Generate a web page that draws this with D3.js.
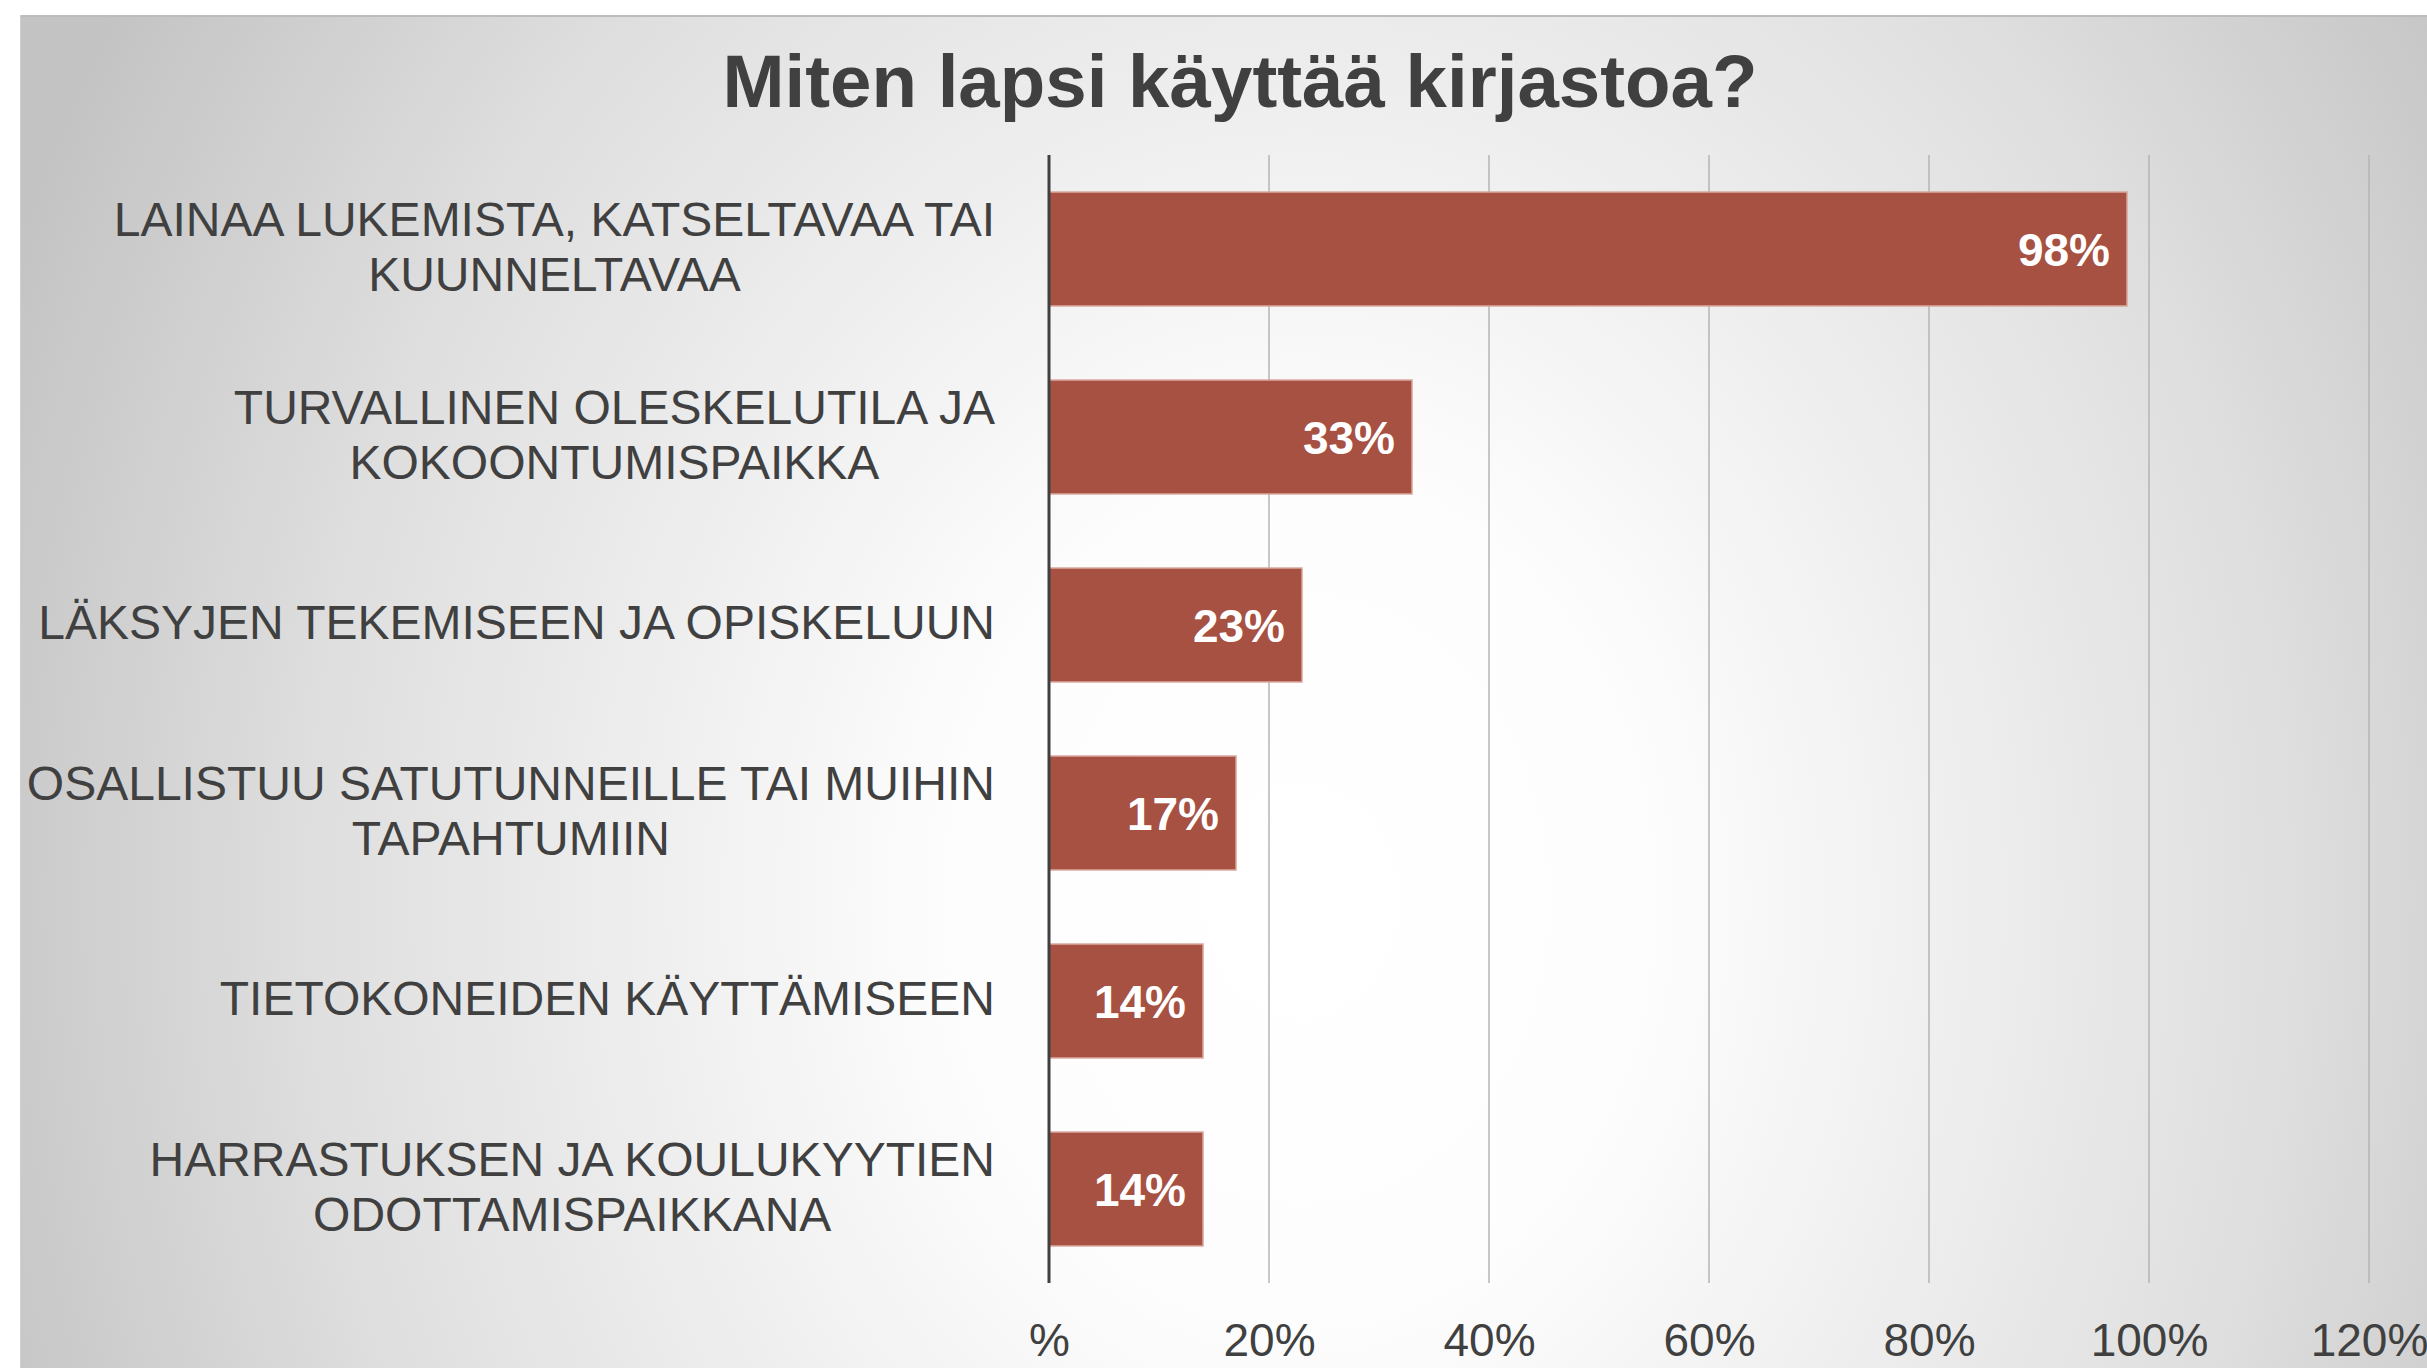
<!DOCTYPE html>
<html>
<head>
<meta charset="utf-8">
<script src="https://cdn.jsdelivr.net/npm/d3@7"></script>
<style>
    body { margin: 0; background: #ffffff; }
    svg { display: block; }
</style>
</head>
<body>
<div id="chart"></div>
<script>
// Chart data
var title = "Miten lapsi käyttää kirjastoa?";
var categories = [
    ["LAINAA LUKEMISTA, KATSELTAVAA TAI", "KUUNNELTAVAA"],
    ["TURVALLINEN OLESKELUTILA JA", "KOKOONTUMISPAIKKA"],
    ["LÄKSYJEN TEKEMISEEN JA OPISKELUUN"],
    ["OSALLISTUU SATUTUNNEILLE TAI MUIHIN", "TAPAHTUMIIN"],
    ["TIETOKONEIDEN KÄYTTÄMISEEN"],
    ["HARRASTUKSEN JA KOULUKYYTIEN", "ODOTTAMISPAIKKANA"]
];
var values = [98, 33, 23, 17, 14, 14];
var tickValues = [0, 20, 40, 60, 80, 100, 120];

var width = 2427, height = 1369;
var font = "'Liberation Sans', Arial, sans-serif";
var textColor = "#404040";

var svg = d3.select("#chart")
    .append("svg")
    .attr("width", width)
    .attr("height", height);

// Background panel with the radial grey gradient
var defs = svg.append("defs");
var grad = defs.append("radialGradient")
    .attr("id", "bg")
    .attr("gradientUnits", "userSpaceOnUse")
    .attr("cx", 0).attr("cy", 0).attr("r", 1)
    .attr("gradientTransform", "translate(1300,900) scale(1400,1700)");
grad.append("stop").attr("offset", 0).attr("stop-color", "#ffffff");
grad.append("stop").attr("offset", 0.25).attr("stop-color", "#fdfdfd");
grad.append("stop").attr("offset", 0.7).attr("stop-color", "#dfdfdf");
grad.append("stop").attr("offset", 1).attr("stop-color", "#c3c3c3");

svg.append("rect")
    .attr("x", 20).attr("y", 15)
    .attr("width", width - 20).attr("height", height - 16)
    .attr("fill", "url(#bg)");
svg.append("line")
    .attr("x1", 20).attr("x2", width)
    .attr("y1", 16).attr("y2", 16)
    .attr("stroke", "#bcbcbc").attr("stroke-width", 2);
svg.append("line")
    .attr("x1", 20.5).attr("x2", 20.5)
    .attr("y1", 15).attr("y2", height - 1)
    .attr("stroke", "#cfcfcf").attr("stroke-width", 1);

// Title
svg.append("text")
    .attr("x", 1240)
    .attr("y", 107)
    .attr("text-anchor", "middle")
    .style("font-family", font)
    .style("font-weight", "bold")
    .style("font-size", "74.5px")
    .style("fill", textColor)
    .text(title);

// Plot area
var plotLeft = 1049, plotTop = 155, plotBottom = 1283;
var x = d3.scaleLinear()
    .domain([0, 120])
    .range([plotLeft, plotLeft + 1320]);
var y = d3.scaleBand()
    .domain(d3.range(categories.length))
    .range([plotTop, plotBottom])
    .paddingInner(0.394)
    .paddingOuter(0.197);

// Gridlines
svg.append("g")
    .selectAll("line")
    .data(tickValues.filter(function (d) { return d > 0; }))
    .enter()
    .append("line")
    .attr("x1", function (d) { return x(d); })
    .attr("x2", function (d) { return x(d); })
    .attr("y1", plotTop)
    .attr("y2", plotBottom)
    .attr("stroke", "#b4b4b4")
    .attr("stroke-width", 1.5);

// Bars
svg.append("g")
    .selectAll("rect")
    .data(values)
    .enter()
    .append("rect")
    .attr("x", x(0))
    .attr("y", function (d, i) { return y(i); })
    .attr("width", function (d) { return x(d) - x(0); })
    .attr("height", y.bandwidth())
    .attr("fill", "#a65142")
    .attr("stroke", "#d8a49b")
    .attr("stroke-width", 1.5);

// Value labels inside the bars
svg.append("g")
    .selectAll("text")
    .data(values)
    .enter()
    .append("text")
    .attr("x", function (d) { return x(d) - 17; })
    .attr("y", function (d, i) { return y(i) + y.bandwidth() / 2 + 17; })
    .attr("text-anchor", "end")
    .style("font-family", font)
    .style("font-weight", "bold")
    .style("font-size", "46px")
    .style("fill", "#ffffff")
    .text(function (d) { return d + "%"; });

// Vertical axis line
svg.append("line")
    .attr("x1", x(0)).attr("x2", x(0))
    .attr("y1", plotTop).attr("y2", plotBottom)
    .attr("stroke", textColor)
    .attr("stroke-width", 3);

// Bottom tick labels
var xAxis = d3.axisBottom(x)
    .tickValues(tickValues)
    .tickSize(0)
    .tickPadding(40)
    .tickFormat(function (d) { return d === 0 ? "%" : d + "%"; });
var ax = svg.append("g")
    .attr("transform", "translate(0," + plotBottom + ")")
    .call(xAxis);
ax.select(".domain").remove();
ax.selectAll("text")
    .style("font-family", font)
    .style("font-size", "46px")
    .style("fill", textColor);

// Category labels: each block centred on itself, block right-aligned near the axis
var labelRight = 995;
var lineHeight = 55;
var cats = svg.append("g");
categories.forEach(function (lines, i) {
    var t = cats.append("text")
        .attr("text-anchor", "middle")
        .style("font-family", font)
        .style("font-size", "48px")
        .style("fill", textColor);
    var cy = y(i) + y.bandwidth() / 2;
    var first = cy - (lines.length - 1) * lineHeight / 2 + 14;
    var spans = t.selectAll("tspan")
        .data(lines)
        .enter()
        .append("tspan")
        .attr("y", function (d, j) { return first + j * lineHeight; })
        .text(function (d) { return d; });
    var maxW = 0;
    spans.each(function () {
        maxW = Math.max(maxW, this.getComputedTextLength());
    });
    spans.attr("x", labelRight - maxW / 2);
});
</script>
</body>
</html>
